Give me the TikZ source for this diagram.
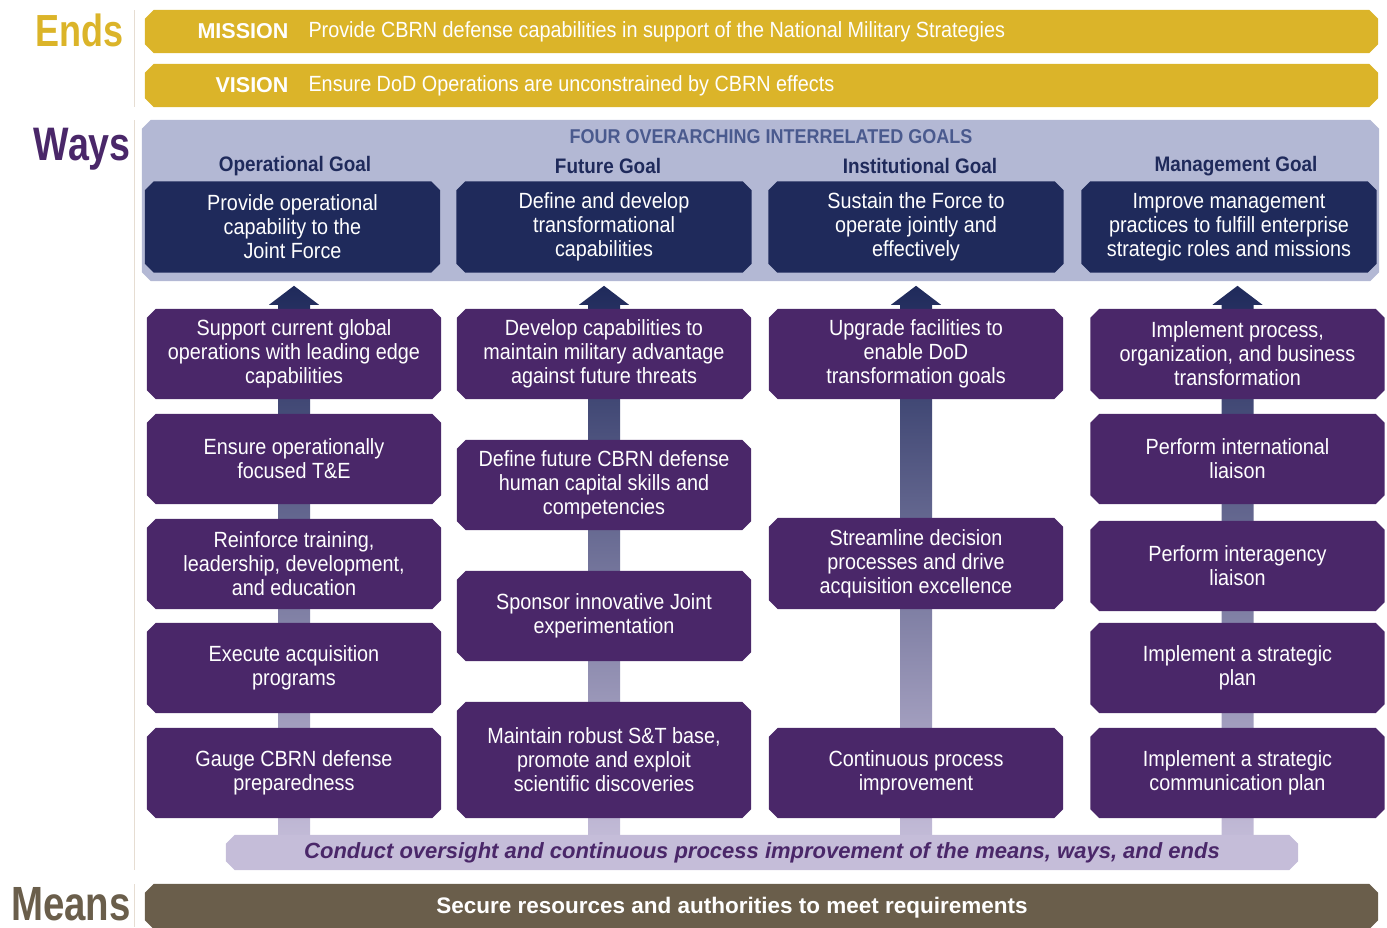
\documentclass[tikz,border=0pt]{standalone}
\usepackage{fontspec}
\setmainfont{Liberation Sans}[FakeStretch=0.9]
\newfontfamily\labelfont{Liberation Sans}[FakeStretch=0.8]
\newfontfamily\widefont{Liberation Sans}
\usepackage{tikz}
\usetikzlibrary{positioning,calc,backgrounds}
\usepackage{xcolor}

\definecolor{endsgold}{HTML}{DBB429}
\definecolor{panelblue}{HTML}{B3B8D4}
\definecolor{goalnavy}{HTML}{1F2A5B}
\definecolor{objpurple}{HTML}{4A2769}
\definecolor{lilac}{HTML}{C5BDD9}
\definecolor{meansbrown}{HTML}{6A5E4B}
\definecolor{rulebeige}{HTML}{E6DDD2}
\definecolor{headblue}{HTML}{4A5A8E}

\pgfdeclarelayer{panellayer}
\pgfdeclarelayer{arrowlayer}
\pgfdeclarelayer{boxlayer}
\pgfsetlayers{panellayer,arrowlayer,boxlayer,main}

% filled box with cut corners round a named node
\newcommand{\chamferfill}[2]{%
  \fill[#2] ($(#1.north west)+(9,0)$) -- ($(#1.north east)+(-9,0)$) -- ($(#1.north east)+(0,9)$)
    -- ($(#1.south east)+(0,-9)$) -- ($(#1.south east)+(-9,0)$) -- ($(#1.south west)+(9,0)$)
    -- ($(#1.south west)+(0,-9)$) -- ($(#1.north west)+(0,9)$) -- cycle;}

\tikzset{
  plate/.style={rectangle, inner sep=0pt},
  banner/.style={plate, minimum width=1233pt, minimum height=43pt},
  goalbox/.style={plate, text=white, minimum width=295pt, minimum height=91pt, align=center, font=\fontsize{22}{24}\selectfont},
  objbox/.style={plate, text=white, minimum width=294pt, minimum height=90pt, align=center, font=\fontsize{22}{24}\selectfont},
  goalhead/.style={text=goalnavy, font=\fontsize{21}{24}\selectfont\bfseries},
  tagtext/.style={text=white, font=\widefont\fontsize{21.5}{24}\selectfont\bfseries},
  sidelabel/.style={anchor=base east, inner sep=0pt, font=\labelfont\fontsize{47}{47}\selectfont\bfseries},
  shaft/.style={top color=goalnavy, bottom color=lilac}
}

\begin{document}
\begin{tikzpicture}[x=1pt, y=-1pt]
        \useasboundingbox (0,0) rectangle (1387,927);

        % Side labels and rules
        \node[sidelabel, text=endsgold, font=\labelfont\fontsize{45}{45}\selectfont\bfseries] (ends) at (124,46) {Ends};
        \node[sidelabel, text=objpurple] (ways) at (131,160) {Ways};
        \node[sidelabel, text=meansbrown, font=\labelfont\fontsize{48}{48}\selectfont\bfseries] (means) at (131,920) {Means};
        \draw[rulebeige, thick] (134,10) -- (134,107);
        \draw[rulebeige, thick] (134,120) -- (134,870);
        \draw[rulebeige, thick] (134,884) -- (134,927);

        % Ends
        \node[banner] (mission) at (761.5,31.5) {};
        \node[tagtext, anchor=west] (missiontag) at (194,31.5) {MISSION};
        \node[anchor=west, text=white, font=\fontsize{22}{24}\selectfont] at (305,31.5) {Provide CBRN defense capabilities in support of the National Military Strategies};
        \node[banner] (vision) at (761.5,85.5) {};
        \node[tagtext, anchor=east] (visiontag) at (292,85.5) {VISION};
        \node[anchor=west, text=white, font=\fontsize{22}{24}\selectfont] at (305,85.5) {Ensure DoD Operations are unconstrained by CBRN effects};

        % Ways: goals panel
        \node[plate, minimum width=1237pt, minimum height=161pt] (panel) at (760.5,200.5) {};
        \node[text=headblue, font=\fontsize{20}{24}\selectfont\bfseries] (four) at (771,137) {FOUR OVERARCHING INTERRELATED GOALS};
        \node[goalhead] at (295,166) {Operational Goal};
        \node[goalhead] at (608,166) {Future Goal};
        \node[goalhead] at (920,166) {Institutional Goal};
        \node[goalhead] at (1236,166) {Management Goal};

        \node[goalbox] (g1) at (292.5,227) {Provide operational\\capability to the\\Joint Force};
        \node[goalbox] (g2) at (604,227) {Define and develop\\transformational\\capabilities};
        \node[goalbox] (g3) at (916,227) {Sustain the Force to\\operate jointly and\\effectively};
        \node[goalbox] (g4) at (1229,227) {Improve management\\practices to fulfill enterprise\\strategic roles and missions};

        % Operational objectives
        \node[objbox] (o1) at (294,354) {Support current global\\operations with leading edge\\capabilities};
        \node[objbox] (o2) at (294,459) {Ensure operationally\\focused T\&E};
        \node[objbox] (o3) at (294,564) {Reinforce training,\\leadership, development,\\and education};
        \node[objbox] (o4) at (294,668) {Execute acquisition\\programs};
        \node[objbox] (o5) at (294,773) {Gauge CBRN defense\\preparedness};

        % Future objectives
        \node[objbox] (f1) at (604,354) {Develop capabilities to\\maintain military advantage\\against future threats};
        \node[objbox] (f2) at (604,485) {Define future CBRN defense\\human capital skills and\\competencies};
        \node[objbox] (f3) at (604,616) {Sponsor innovative Joint\\experimentation};
        \node[objbox, minimum height=116pt] (f4) at (604,760) {Maintain robust S\&T base,\\promote and exploit\\scientific discoveries};

        % Institutional objectives
        \node[objbox] (i1) at (916,354) {Upgrade facilities to\\enable DoD\\transformation goals};
        \node[objbox, minimum height=91pt] (i2) at (916,563.5) {Streamline decision\\processes and drive\\acquisition excellence};
        \node[objbox] (i3) at (916,773) {Continuous process\\improvement};

        % Management objectives
        \node[objbox] (m1) at (1237.5,354) {Implement process,\\organization, and business\\transformation};
        \node[objbox] (m2) at (1237.5,459) {Perform international\\liaison};
        \node[objbox] (m3) at (1237.5,566) {Perform interagency\\liaison};
        \node[objbox] (m4) at (1237.5,668) {Implement a strategic\\plan};
        \node[objbox] (m5) at (1237.5,773) {Implement a strategic\\communication plan};

        % Oversight bar and means
        \node[plate, minimum width=1072pt, minimum height=35pt, text=objpurple,
              font=\widefont\fontsize{22}{24}\selectfont\bfseries\itshape] (oversight) at (762,852.5)
              {Conduct oversight and continuous process improvement of the means, ways, and ends};
        \node[plate, minimum width=1233pt, minimum height=45pt] (secure) at (761.5,906.5) {};
        \node[text=white, font=\widefont\fontsize{22.5}{24}\selectfont\bfseries] at (732,908) {Secure resources and authorities to meet requirements};

        % Fills
        \begin{pgfonlayer}{panellayer}
            \chamferfill{panel}{panelblue}
        \end{pgfonlayer}
        \begin{pgfonlayer}{arrowlayer}
        \foreach \col in {o1,f1,i1,m1}{
            \shade[shaft] ($(\col.north)+(0,-23)$) -- ++(25,19) -- ++(-9,0) -- ++(0,540)
                -- ++(-32,0) -- ++(0,-540) -- ++(-9,0) -- cycle;
        }
        \end{pgfonlayer}
        \begin{pgfonlayer}{boxlayer}
            \chamferfill{mission}{endsgold}
            \chamferfill{vision}{endsgold}
            \foreach \n in {g1,g2,g3,g4} {\chamferfill{\n}{goalnavy}}
            \foreach \n in {o1,o2,o3,o4,o5,f1,f2,f3,f4,i1,i2,i3,m1,m2,m3,m4,m5} {\chamferfill{\n}{objpurple}}
            \chamferfill{oversight}{lilac}
            \chamferfill{secure}{meansbrown}
        \end{pgfonlayer}
    \end{tikzpicture}
\end{document}
